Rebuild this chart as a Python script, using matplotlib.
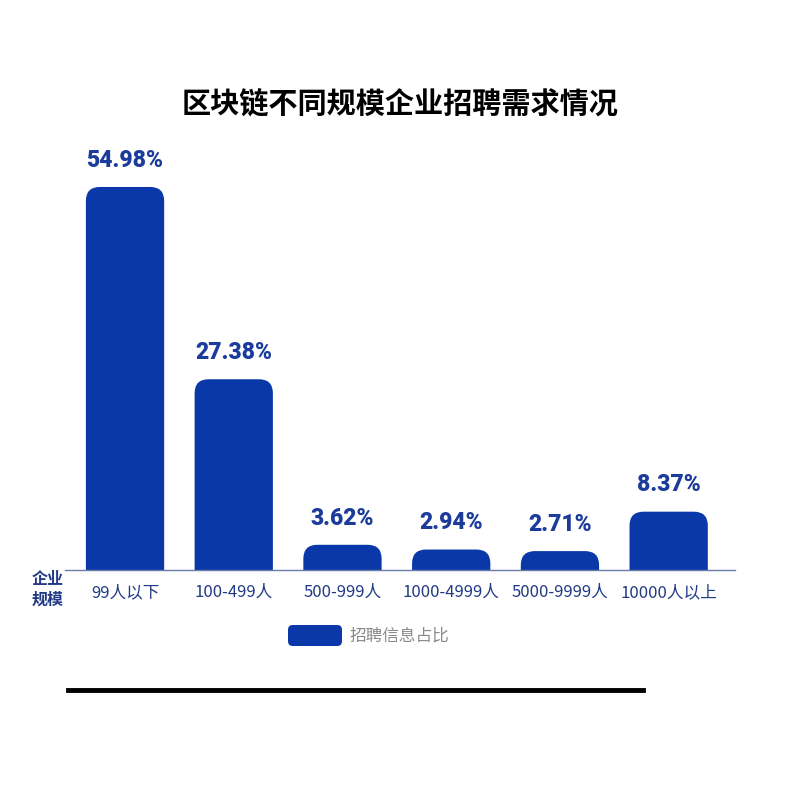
import matplotlib
matplotlib.use("Agg")
import matplotlib.pyplot as plt
from matplotlib.patches import FancyBboxPatch
from matplotlib.lines import Line2D

plt.rcParams['font.family'] = ['Noto Sans CJK SC', 'DejaVu Sans']

# data
categories = ['99人以下', '100-499人', '500-999人', '1000-4999人', '5000-9999人', '10000人以上']
shares = [54.98, 27.38, 3.62, 2.94, 2.71, 8.37]
value_labels = ['54.98%', '27.38%', '3.62%', '2.94%', '2.71%', '8.37%']
series_name = '招聘信息占比'
title = '区块链不同规模企业招聘需求情况'

bar_color = '#0a38a8'
label_color = '#1c3c9c'
tick_color = '#213a86'

fig = plt.figure(figsize=(8, 7.92), dpi=100)
ax = fig.add_axes([0.08125, 0.2803, 0.8375, 0.5454])
ax.set_xlim(-0.552, 5.61)
ax.set_ylim(0, 62)

# rounded-top bars: box extends below 0 so bottom corners get clipped away
fig.canvas.draw()
px_x = ax.transData.transform((1, 0))[0] - ax.transData.transform((0, 0))[0]
px_y = ax.transData.transform((0, 1))[1] - ax.transData.transform((0, 0))[1]
aspect = px_x / px_y
r_px = 14
r_x = r_px / px_x
r_y = r_px / px_y
width = 0.72

for i, v in enumerate(shares):
    box = FancyBboxPatch((i - width / 2, -r_y), width, v + r_y,
                         boxstyle=f"round,pad=0,rounding_size={r_x}",
                         mutation_aspect=aspect,
                         facecolor=bar_color, edgecolor='none')
    ax.add_patch(box)
    ax.annotate(value_labels[i], (i, v), xytext=(0, 11), textcoords='offset points',
                ha='center', va='bottom', fontsize=16.5, fontweight='black',
                color=label_color, family=['Roboto', 'DejaVu Sans'])

for s in ['top', 'right', 'left']:
    ax.spines[s].set_visible(False)
ax.spines['bottom'].set_color('#6a7ca8')
ax.spines['bottom'].set_linewidth(1.0)
ax.set_yticks([])
ax.set_xticks(range(len(categories)))
ax.set_xticklabels(categories, fontsize=12, color=tick_color)
ax.tick_params(axis='x', length=0, pad=10)

fig.text(0.059, 0.256, '企业\n规模', ha='center', va='center', fontsize=11.5,
         fontweight='bold', color=tick_color, linespacing=1.35)

fig.text(0.5, 0.868, title, ha='center', va='center', fontsize=21,
         fontweight=900, color='black')

# legend
leg = FancyBboxPatch((288 / 800, 1 - 646 / 792), 54 / 800, 21 / 792,
                     boxstyle="round,pad=0,rounding_size=0.006",
                     transform=fig.transFigure, facecolor=bar_color,
                     edgecolor='none')
fig.patches.append(leg)
fig.text(350 / 800, 1 - 636 / 792, series_name, ha='left', va='center',
         fontsize=12, color='#8a8a8a')

# black rule under the chart
fig.lines.append(Line2D([68 / 800, 643 / 800], [1 - 690 / 792, 1 - 690 / 792],
                        transform=fig.transFigure, color='black', linewidth=3.5))

fig.savefig('out.png', dpi=100)
